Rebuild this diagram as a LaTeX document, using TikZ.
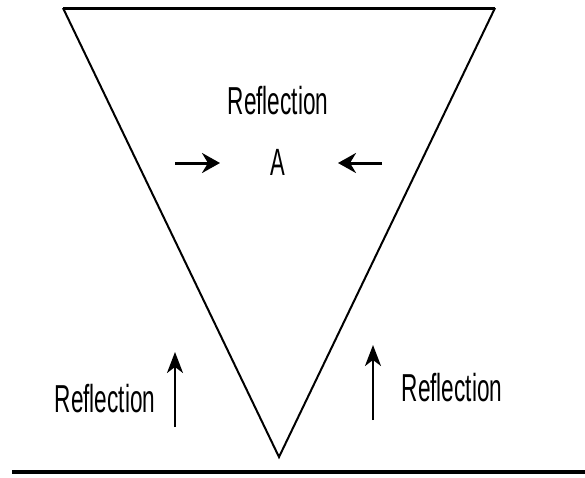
\documentclass[tikz,border=0pt]{standalone}
\usepackage{fontspec}
\newfontfamily\narrowsans[FakeStretch=0.58]{Liberation Sans}
\usetikzlibrary{arrows.meta}

\begin{document}
\begin{tikzpicture}[x=1pt, y=-1pt,
  lbl/.style={font=\narrowsans\fontsize{39}{39}\selectfont, inner sep=0pt},
  letter/.style={font=\narrowsans\fontsize{38}{38}\selectfont, inner sep=0pt},
  hray/.style={-{Stealth[length=18pt, width=20pt, inset=6pt]}, line width=3pt},
  vray/.style={-{Stealth[length=21pt, width=16pt, inset=6pt]}, line width=2pt}]
  \useasboundingbox (0,0) rectangle (585,477);
  % prism and ground
  \coordinate (tl)  at (63,8);
  \coordinate (tr)  at (495,8);
  \coordinate (tip) at (279,457);
  \coordinate (gl)  at (12,472);
  \coordinate (gr)  at (585,472);
  \draw[line width=2pt, line join=miter] (tl) -- (tip) -- (tr);
  \draw[line width=3pt] (tl) -- (tr);
  \draw[line width=3.5pt] (gl) -- (gr);
  % labels
  \node[lbl]    (rtop)   at (278,101) {Reflection};
  \node[letter] (a)      at (278,162) {A};
  \node[lbl]    (rleft)  at (105,399) {Reflection};
  \node[lbl]    (rright) at (452,388) {Reflection};
  % rays
  \coordinate (hl0) at (175,163);
  \coordinate (hl1) at (220,163);
  \coordinate (hr0) at (382,163);
  \coordinate (hr1) at (338,163);
  \coordinate (vl0) at (175,427);
  \coordinate (vl1) at (175,352);
  \coordinate (vr0) at (373,420);
  \coordinate (vr1) at (373,345);
  \draw[hray] (hl0) -- (hl1);
  \draw[hray] (hr0) -- (hr1);
  \draw[vray] (vl0) -- (vl1);
  \draw[vray] (vr0) -- (vr1);
\end{tikzpicture}
\end{document}
